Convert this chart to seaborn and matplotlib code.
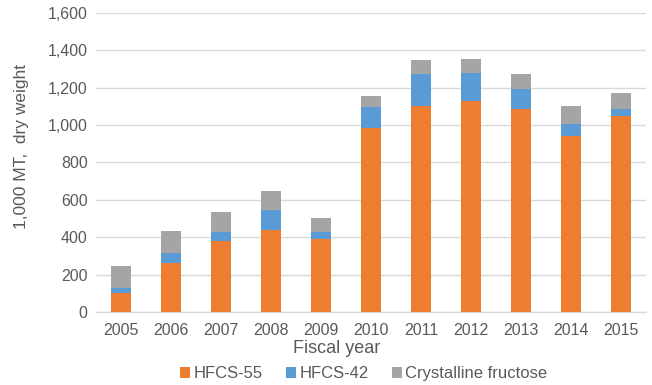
import numpy as np
import pandas as pd
import matplotlib
matplotlib.use("Agg")
import matplotlib.pyplot as plt
import seaborn as sns
from matplotlib.patches import Patch
from matplotlib.ticker import FuncFormatter

years = ["2005", "2006", "2007", "2008", "2009", "2010",
         "2011", "2012", "2013", "2014", "2015"]
hfcs55 = [100, 263, 378, 440, 388, 983, 1103, 1127, 1085, 942, 1048]
hfcs42 = [27, 52, 48, 108, 41, 112, 172, 152, 110, 62, 40]
crystalline = [118, 120, 110, 97, 72, 60, 75, 75, 80, 97, 82]

series_names = ["HFCS-55", "HFCS-42", "Crystalline fructose"]
colors = ["#ED7D31", "#5B9BD5", "#A5A5A5"]

df = pd.DataFrame({"year": years, "HFCS-55": hfcs55,
                   "HFCS-42": hfcs42, "Crystalline fructose": crystalline})
# cumulative heights for stacking
df["top55"] = df["HFCS-55"]
df["top42"] = df["top55"] + df["HFCS-42"]
df["topcf"] = df["top42"] + df["Crystalline fructose"]

sns.set_theme(style="white")
plt.rcParams["font.family"] = ["Liberation Sans", "DejaVu Sans"]

fig = plt.figure(figsize=(6.52, 3.85), dpi=100)
ax = fig.add_axes([0.147, 0.19, 0.844, 0.776])

for col, c in [("topcf", colors[2]), ("top42", colors[1]), ("top55", colors[0])]:
    sns.barplot(data=df, x="year", y=col, color=c, width=0.4,
                saturation=1, ax=ax, zorder=3, linewidth=0, edgecolor="none")

ax.set_ylim(0, 1600)
ax.set_yticks(np.arange(0, 1601, 200))
ax.yaxis.set_major_formatter(FuncFormatter(lambda v, p: f"{int(v):,}"))
ax.set_xlim(-0.5, len(years) - 0.5)
ax.grid(axis="y", color="#D9D9D9", linewidth=1, zorder=0)
ax.set_axisbelow(True)
for s in ["top", "right", "left"]:
    ax.spines[s].set_visible(False)
ax.spines["bottom"].set_color("#D9D9D9")
ax.spines["bottom"].set_linewidth(1)
ax.tick_params(axis="y", length=0, labelsize=11.5, colors="#595959", pad=6)
ax.tick_params(axis="x", length=0, labelsize=11.5, colors="#595959", pad=8)

ax.set_xlabel("Fiscal year", fontsize=13, color="#595959")
ax.xaxis.set_label_coords(0.438, -0.094)
ax.set_ylabel("1,000 MT,  dry weight", fontsize=12.5, color="#595959")
ax.yaxis.set_label_coords(-0.122, 0.552)

handles = [Patch(facecolor=c, edgecolor="none") for c in colors]
fig.legend(handles, series_names, loc="center", bbox_to_anchor=(0.558, 0.029),
           ncol=3, frameon=False, fontsize=12, handlelength=0.6, handleheight=0.6,
           handletextpad=0.2, columnspacing=1.4, labelcolor="#595959")

fig.savefig("out.png", dpi=100)
